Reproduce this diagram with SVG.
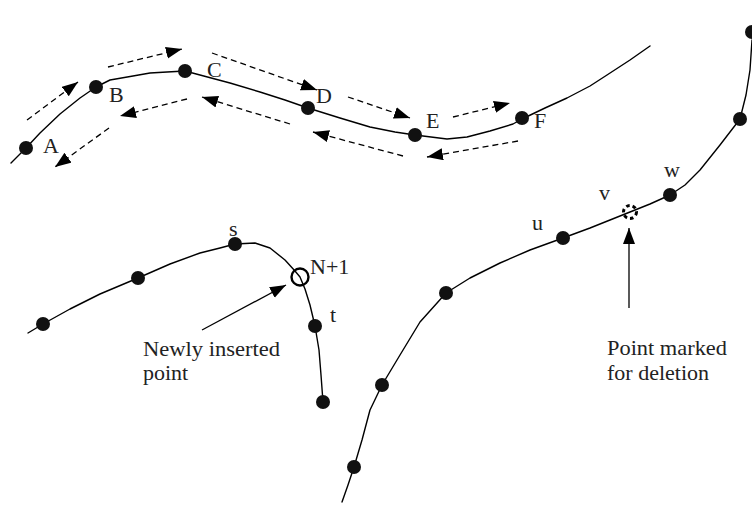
<svg xmlns="http://www.w3.org/2000/svg" width="752" height="505" viewBox="0 0 752 505">
<style>
.curve{fill:none;stroke:#000;stroke-width:1.4;stroke-linejoin:round;stroke-linecap:round}
.dot{fill:#111}
.lbl{font-family:"Liberation Serif","Times New Roman",serif;font-size:22px;fill:#222}
.dash{fill:none;stroke:#000;stroke-width:1.3;stroke-dasharray:6,4}
.solid{fill:none;stroke:#000;stroke-width:1.3}
</style>
<defs>
<marker id="ah" markerUnits="userSpaceOnUse" markerWidth="17" markerHeight="13" refX="16" refY="6" orient="auto">
<path d="M0,0 L16,6 L0,12 z" fill="#000"/>
</marker>
</defs>
<rect width="752" height="505" fill="#fff"/>
<g id="curves">
<polyline class="curve" points="11,163 26,148 40,133 60,114 80,98 96,87 110,80 133,76 150,73 167,72 185,71 200,75 230,83 260,92 285,100 308,108 340,118 370,127 395,132 415,135 447,139 467,137 490,131 513,124 522,119 545,108 567,98 590,86 607,75 630,60 650,46"/>
<polyline class="curve" points="28,333 43,324 70,309 100,294 138,278 170,264 200,253 220,248 235,244 255,243 270,248 285,260 295,271 300,277 305,289 310,305 315,326 319,350 321,375 323,402"/>
<polyline class="curve" points="342,502 348,485 354,467 362,440 370,410 382,385 400,355 420,322 446,293 470,278 500,263 530,250 563,238 590,228 610,220 630,212 650,204 670,195 685,185 700,170 720,145 740,119 746,95 750,70 752,40"/>
</g>
<g id="node-A"><circle class="dot" cx="26" cy="148" r="7"/><text class="lbl" x="43" y="153">A</text></g>
<g id="node-B"><circle class="dot" cx="96" cy="87" r="7"/><text class="lbl" x="109" y="102">B</text></g>
<g id="node-C"><circle class="dot" cx="185" cy="71" r="7"/><text class="lbl" x="207" y="77">C</text></g>
<g id="node-D"><circle class="dot" cx="308" cy="108" r="7"/><text class="lbl" x="316" y="103">D</text></g>
<g id="node-E"><circle class="dot" cx="415" cy="135" r="7"/><text class="lbl" x="426" y="128">E</text></g>
<g id="node-F"><circle class="dot" cx="522" cy="118" r="7"/><text class="lbl" x="534" y="128">F</text></g>
<g id="node-l1"><circle class="dot" cx="43" cy="324" r="7"/></g>
<g id="node-l2"><circle class="dot" cx="138" cy="278" r="7"/></g>
<g id="node-s"><circle class="dot" cx="235" cy="244" r="7"/><text class="lbl" x="229" y="236">s</text></g>
<g id="node-N1"><circle cx="300" cy="277" r="8.5" fill="none" stroke="#000" stroke-width="2.4"/><text class="lbl" x="310" y="274">N+1</text></g>
<g id="node-t"><circle class="dot" cx="315" cy="326" r="7"/><text class="lbl" x="330" y="322">t</text></g>
<g id="node-l3"><circle class="dot" cx="323" cy="402" r="7"/></g>
<g id="node-r1"><circle class="dot" cx="354" cy="467" r="7"/></g>
<g id="node-r2"><circle class="dot" cx="382" cy="385" r="7"/></g>
<g id="node-r3"><circle class="dot" cx="446" cy="293" r="7"/></g>
<g id="node-u"><circle class="dot" cx="563" cy="238" r="7"/><text class="lbl" x="532" y="230">u</text></g>
<g id="node-v"><circle cx="630" cy="212" r="6.5" fill="none" stroke="#000" stroke-width="3" stroke-dasharray="3.5,3"/><text class="lbl" x="599" y="200">v</text></g>
<g id="node-w"><circle class="dot" cx="670" cy="195" r="7"/><text class="lbl" x="664" y="177">w</text></g>
<g id="node-r4"><circle class="dot" cx="740" cy="119" r="7"/></g>
<g id="node-r5"><circle class="dot" cx="752" cy="32" r="7"/></g>
<g id="labels">
<text class="lbl" x="143" y="356" textLength="137" lengthAdjust="spacingAndGlyphs">Newly inserted</text>
<text class="lbl" x="143" y="380">point</text>
<text class="lbl" x="607" y="355" textLength="120" lengthAdjust="spacingAndGlyphs">Point marked</text>
<text class="lbl" x="607" y="380">for deletion</text>
</g>
<g id="connectors">
<line class="dash" x1="27" y1="120" x2="78" y2="82" marker-end="url(#ah)"/>
<line class="dash" x1="108" y1="67" x2="182" y2="49" marker-end="url(#ah)"/>
<line class="dash" x1="212" y1="53" x2="317" y2="90" marker-end="url(#ah)"/>
<line class="dash" x1="348" y1="97" x2="410" y2="118" marker-end="url(#ah)"/>
<line class="dash" x1="453" y1="117" x2="510" y2="103" marker-end="url(#ah)"/>
<line class="dash" x1="518" y1="141" x2="427" y2="157" marker-end="url(#ah)"/>
<line class="dash" x1="403" y1="156" x2="313" y2="132" marker-end="url(#ah)"/>
<line class="dash" x1="290" y1="124" x2="202" y2="97" marker-end="url(#ah)"/>
<line class="dash" x1="187" y1="99" x2="120" y2="116" marker-end="url(#ah)"/>
<line class="dash" x1="109" y1="128" x2="55" y2="167" marker-end="url(#ah)"/>
<line class="solid" x1="202" y1="330" x2="286" y2="285" marker-end="url(#ah)"/>
<line class="solid" x1="629" y1="308" x2="629" y2="228" marker-end="url(#ah)"/>
</g>
</svg>
